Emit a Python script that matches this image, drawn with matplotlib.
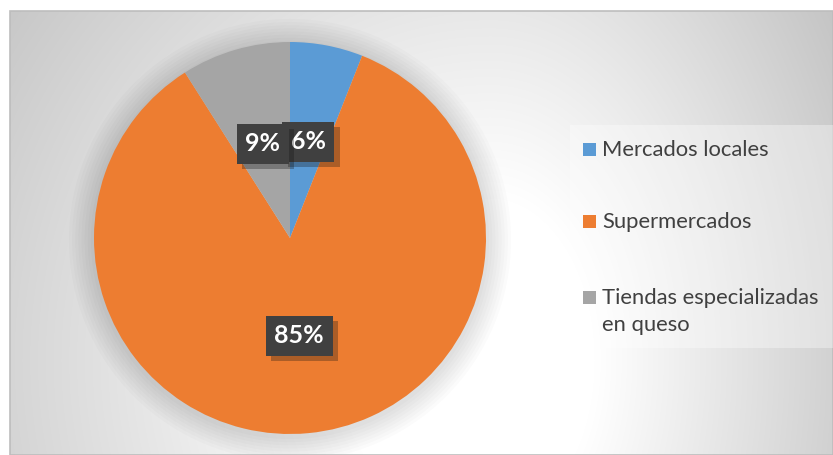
import numpy as np
import matplotlib
matplotlib.use("Agg")
import matplotlib.pyplot as plt
from matplotlib.patches import Rectangle, Circle
import matplotlib.patheffects as pe

# ---- data ----
categories = ["Mercados locales", "Supermercados", "Tiendas especializadas\nen queso"]
values = [6, 85, 9]
colors = ["#5B9BD5", "#ED7D31", "#A5A5A5"]

W, H = 833, 455
fig = plt.figure(figsize=(W / 100, H / 100), dpi=100)
fig.patch.set_facecolor("white")

def fx(x):
    return x / W

def fy(y):
    return 1 - y / H

# ---- background gradient (chart area) ----
x0, y0 = 10, 11
bg = fig.add_axes([fx(x0), 0, 1 - fx(x0), fy(y0)])
xs = np.arange(x0, W)
ys = np.arange(y0, H)
X, Y = np.meshgrid(xs, ys)
cx, cy = 490, 360
rx = np.where(X > cx, 350.0, 520.0)
ry = 540.0
d = np.sqrt(((X - cx) / rx) ** 2 + ((Y - cy) / ry) ** 2)
t = np.clip((d - 0.3) / 0.9, 0, 1)
g = (255 - t * (255 - 195)) / 255.0
img = np.dstack([g, g, g])
bg.imshow(img, aspect="auto", extent=[0, 1, 0, 1], origin="upper", interpolation="bilinear")
bg.set_xlim(0, 1)
bg.set_ylim(0, 1)
bg.axis("off")
# border
fig.patches.append(Rectangle((fx(x0), fy(H)), 1 - fx(x0), fy(y0) - fy(H),
                             transform=fig.transFigure, fill=False,
                             edgecolor="#bdbdbd", linewidth=1.2, zorder=1))

# ---- legend background ----
fig.patches.append(Rectangle((fx(570), fy(348)), fx(833) - fx(570), fy(125) - fy(348),
                             transform=fig.transFigure, facecolor="white", alpha=0.35,
                             edgecolor="none", zorder=2))

# ---- pie ----
pcx, pcy, R = 290, 238, 196
ext = 1.3
side = 2 * ext * R
ax = fig.add_axes([(pcx - ext * R) / W, ((H - pcy) - ext * R) / H, side / W, side / H])
ax.patch.set_alpha(0)
# soft shadow
for k in range(1, 9):
    ax.add_patch(Circle((0, -0.01), 1 + 0.016 * k, facecolor="black", alpha=0.016,
                        edgecolor="none", zorder=0))
wedges, texts, autotexts = ax.pie(
    values, colors=colors, startangle=90, counterclock=False,
    autopct=lambda p: f"{p:.0f}%", pctdistance=0.5, radius=1,
    wedgeprops=dict(edgecolor="none"),
    textprops=dict(color="white", fontsize=18, fontweight="bold", family=["Lato", "DejaVu Sans"]),
)
for a in autotexts:
    a.set_bbox(dict(boxstyle="square,pad=0.34", facecolor="#404040", edgecolor="none",
                    linewidth=0))
    a.get_bbox_patch().set_path_effects([pe.SimplePatchShadow(offset=(4, -4), alpha=0.3),
                                         pe.Normal()])
ax.set_xlim(-ext, ext)
ax.set_ylim(-ext, ext)
ax.set_aspect("equal")
ax.axis("off")

# ---- legend ----
baselines = [156, 228, 304]
line_gap = 27
for cat, col, b in zip(categories, colors, baselines):
    fig.patches.append(Rectangle((fx(583), fy(b)), 13 / W, 13 / H, transform=fig.transFigure,
                                 facecolor=col, edgecolor="none", zorder=3))
    for i, line in enumerate(cat.split("\n")):
        fig.text(fx(602), fy(b + i * line_gap), line, fontsize=15.8, color="#404040",
                 ha="left", va="baseline", family=["Lato", "DejaVu Sans"], zorder=4)

fig.savefig("out.png", dpi=100)
